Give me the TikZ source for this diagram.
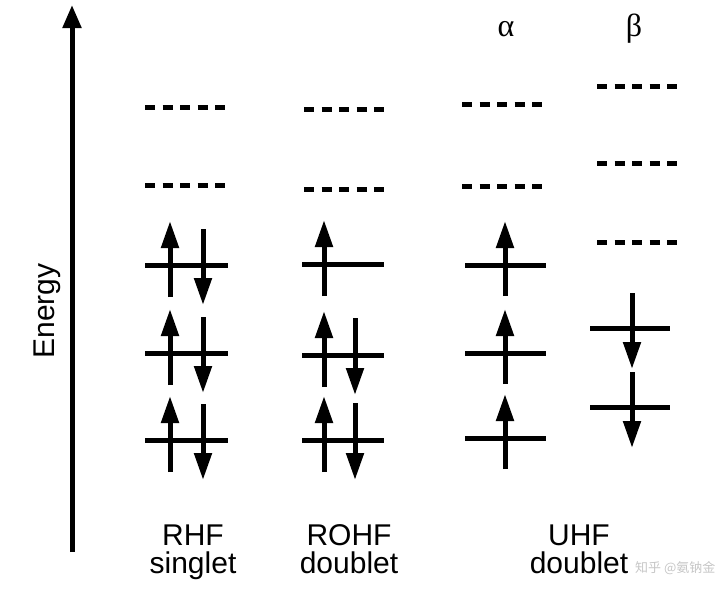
\documentclass[tikz,border=0pt]{standalone}
\usepackage{fontspec}
\setmainfont{Liberation Sans}
\newfontfamily\greekfont{Liberation Serif}
\newfontfamily\cjkfont{Noto Sans CJK SC}
\usetikzlibrary{arrows.meta}

\tikzset{
  orbital/.style={line width=5pt},
  virtual/.style={line width=5pt,dash pattern=on 10pt off 7.5pt},
  spin/.style={line width=5pt,-{Triangle[width=17pt,length=27pt]}},
  lab/.style={font=\fontsize{30}{32}\selectfont,inner sep=0pt},
}

\begin{document}
\begin{tikzpicture}[x=1pt,y=-1pt]
  \useasboundingbox (0,0) rectangle (720,592);
  \draw[line width=5pt,-{Triangle[width=18pt,length=23pt]}] (72,552) -- (72,5);
  \node[lab,rotate=90] (energy) at (47,311) {Energy};
  % RHF
  \foreach \y in {107,185} \draw[virtual] (145,\y) -- (227,\y);
  \foreach \y in {265,353,440}{
    \draw[orbital] (145,\y) -- (228,\y);
    \draw[spin] (170,\y+32) -- (170,\y-44);
    \draw[spin] (203,\y-36) -- (203,\y+40);
  }
  % ROHF
  \foreach \y in {109,189} \draw[virtual] (304,\y) -- (386,\y);
  \foreach \y/\dn in {264/0,355/1,440/1}{
    \draw[orbital] (302,\y) -- (384,\y);
    \draw[spin] (324,\y+32) -- (324,\y-44);
    \ifnum\dn=1 \draw[spin] (355,\y-37) -- (355,\y+40); \fi
  }
  % UHF alpha
  \foreach \y in {104,186} \draw[virtual] (462,\y) -- (544,\y);
  \foreach \y in {265,353,438}{
    \draw[orbital] (465,\y) -- (546,\y);
    \draw[spin] (505,\y+31) -- (505,\y-44);
  }
  % UHF beta
  \foreach \y in {86,163,242} \draw[virtual] (597,\y) -- (679,\y);
  \foreach \y in {328,407}{
    \draw[orbital] (590,\y) -- (670,\y);
    \draw[spin] (632,\y-35) -- (632,\y+41);
  }
  \node[font=\greekfont\fontsize{32}{34}\selectfont] (alpha) at (506,29) {α};
  \node[font=\greekfont\fontsize{32}{34}\selectfont] (beta) at (634,29) {β};
  \foreach \x/\top/\bot/\n in {193/RHF/singlet/rhf,349/ROHF/doublet/rohf,579/UHF/doublet/uhf}{
    \node[lab,anchor=base] (\n top) at (\x,545) {\top};
    \node[lab,anchor=base] (\n bot) at (\x,573) {\bot};
  }
  \node[font=\cjkfont\fontsize{13}{15}\selectfont,text=gray!45,anchor=base west,inner sep=0pt]
    (mark) at (635,572) {知乎 @氨钠金};
\end{tikzpicture}
\end{document}
